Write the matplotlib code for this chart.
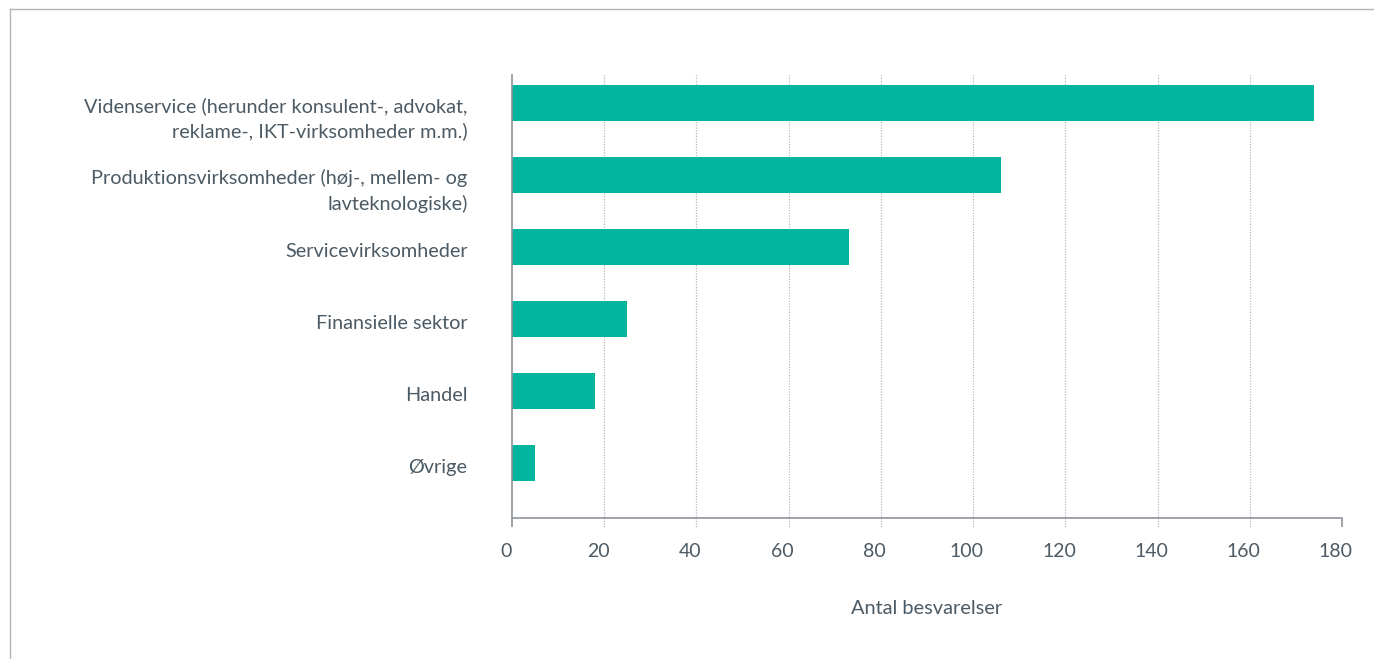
import numpy as np
import matplotlib.pyplot as plt
from matplotlib.lines import Line2D
import matplotlib.transforms as mtransforms

# categories and number of answers
categories = [
    "Videnservice (herunder konsulent-, advokat,\nreklame-, IKT-virksomheder m.m.)",
    "Produktionsvirksomheder (høj-, mellem- og\nlavteknologiske)",
    "Servicevirksomheder",
    "Finansielle sektor",
    "Handel",
    "Øvrige",
]
answers = [174, 106, 73, 25, 18, 5]
x_ticks = [0, 20, 40, 60, 80, 100, 120, 140, 160, 180]
x_label = "Antal besvarelser"

bar_color = "#02b59f"
text_color = "#4b5a64"
axis_color = "#8c949a"
grid_color = "#b8b8b8"

plt.rcParams['font.family'] = ['Lato', 'DejaVu Sans']

fig = plt.figure(figsize=(13.74, 6.59), dpi=100)
ax = fig.add_axes([512 / 1374, 1 - 518 / 659, 830 / 1374, 444 / 659])

y = np.arange(len(categories))
ax.barh(y, answers, height=0.51, color=bar_color, zorder=3)

ax.set_xlim(0, 180)
ax.set_ylim(5.764, -0.403)
ax.tick_params(axis="y", length=0, pad=32)
ax.tick_params(axis="x", length=0, pad=18)
ax.set_xticks(x_ticks)
ax.set_xticklabels([str(t) for t in x_ticks], fontsize=14, color=text_color)
ax.set_yticks(y)
ax.set_yticklabels(categories, fontsize=14.3, color=text_color, linespacing=1.52)

# multi-line labels start at the bar centre and wrap downwards
for lab in ax.get_yticklabels():
    if "\n" in lab.get_text():
        lab.set_verticalalignment("top")
        dy = 4.5
    else:
        dy = -2
    lab.set_transform(lab.get_transform() + mtransforms.ScaledTranslation(0, dy / 72, fig.dpi_scale_trans))

# tick numbers sit slightly left of their ticks in the original
for lab in ax.get_xticklabels():
    lab.set_transform(lab.get_transform() + mtransforms.ScaledTranslation(-4.5 / 72, 0, fig.dpi_scale_trans))

# dotted gridlines that run a bit below the axis like ticks
xt = ax.get_xaxis_transform()
ax.vlines(x_ticks[1:-1], -0.02, 1, transform=xt, colors=grid_color,
          linestyles=(0, (1, 1.2)), linewidth=0.9, clip_on=False, zorder=1)
ax.vlines([0, 180], -0.02, 0, transform=xt, colors=axis_color, linewidth=1.2, clip_on=False)
ax.vlines([0], 0, 1, transform=xt, colors=axis_color, linewidth=1.2, clip_on=False, zorder=4)

for side in ["top", "right", "left"]:
    ax.spines[side].set_visible(False)
ax.spines["bottom"].set_color(axis_color)
ax.spines["bottom"].set_linewidth(1.2)

ax.set_xlabel(x_label, fontsize=14.4, color=text_color, labelpad=29)

# light frame around the figure (top and left)
fig.add_artist(Line2D([10 / 1374, 1], [1 - 9 / 659, 1 - 9 / 659], color="#b4b4b4", linewidth=1))
fig.add_artist(Line2D([10 / 1374, 10 / 1374], [0, 1 - 9 / 659], color="#b4b4b4", linewidth=1))

fig.savefig("out.png", dpi=100)
